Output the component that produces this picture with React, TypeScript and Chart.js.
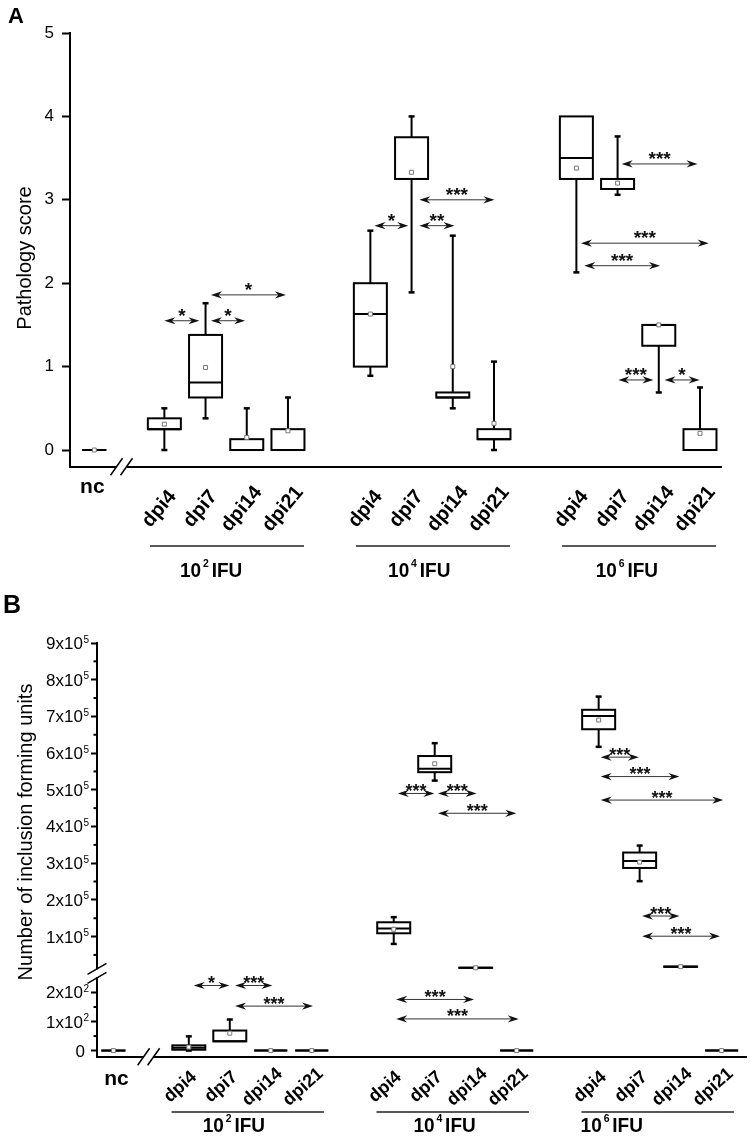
import React, { useEffect, useRef } from 'react';
import { Chart, registerables } from 'chart.js';

Chart.register(...registerables);

const FONT = "'Liberation Sans', Arial, Helvetica, sans-serif";

// ---------------- data ----------------
const controlLabel = 'nc';
const dayLabels = ['dpi4', 'dpi7', 'dpi14', 'dpi21'];
const doseBase = '10';
const doseExponents = ['2', '4', '6'];
const doseUnit = 'IFU';

// Panel A: pathology score. Order: nc, 10^2 dpi4..dpi21, 10^4 dpi4..dpi21, 10^6 dpi4..dpi21
const scoreWhiskerLow = [0, 0, 0.38, 0, 0, 0.89, 1.89, 0.5, 0, 2.13, 3.06, 0.69, 0];
const scoreQ1 = [0, 0.25, 0.63, 0, 0, 1.0, 3.25, 0.63, 0.13, 3.25, 3.13, 1.25, 0];
const scoreMedian = [0, 0.25, 0.81, 0, 0, 1.63, 3.25, 0.63, 0.13, 3.5, 3.25, 1.5, 0];
const scoreQ3 = [0, 0.38, 1.38, 0.13, 0.25, 2.0, 3.75, 0.69, 0.25, 4.0, 3.25, 1.5, 0.25];
const scoreWhiskerHigh = [0, 0.5, 1.76, 0.5, 0.63, 2.63, 4.0, 2.57, 1.06, 4.0, 3.76, 1.5, 0.75];
const scoreMean = [0, 0.31, 0.99, 0.15, 0.23, 1.63, 3.33, 1.0, 0.32, 3.38, 3.2, 1.5, 0.2];
const scoreTicks = [0, 1, 2, 3, 4, 5];

// Panel A significance comparisons (positions on the category axis, value axis)
const scoreSigFrom = [0, 1.13, 1.13, 5.1, 6.19, 6.19, 11.1, 10.11, 10.19, 11.02, 12.14];
const scoreSigTo = [0.85, 1.96, 2.95, 5.92, 7.04, 8.01, 12.94, 13.21, 12.03, 11.87, 12.99];
const scoreSigY = [1.55, 1.55, 1.86, 2.69, 2.69, 3.0, 3.43, 2.48, 2.21, 0.84, 0.84];
const scoreSigLabel = ['*', '*', '*', '*', '**', '***', '***', '***', '***', '***', '*'];

// Panel B: number of inclusion forming units
const ifuWhiskerLow = [0, 0, 32, 0, 0, 80000, 525000, 14000, 0, 617000, 251000, 17000, 0];
const ifuQ1 = [0, 3, 32, 0, 0, 109000, 548000, 14800, 0, 665000, 287000, 17500, 0];
const ifuMedian = [0, 10, 32, 0, 0, 122000, 557000, 15000, 0, 701000, 306000, 18000, 0];
const ifuQ3 = [0, 18, 69, 0, 0, 139000, 592000, 15200, 0, 718000, 329000, 18500, 0];
const ifuWhiskerHigh = [0, 49, 107, 0, 0, 153000, 627000, 16000, 0, 754000, 348000, 19000, 0];
const ifuMean = [0, 12, 60, 0, 0, 120000, 571000, 15000, 0, 690000, 303000, 18000, 0];
const ifuHighTicks = [100000, 200000, 300000, 400000, 500000, 600000, 700000, 800000, 900000];
const ifuHighMinorTicks = [50000, 150000, 250000, 350000, 450000, 550000, 650000, 750000, 850000];
const ifuLowTicks = [0, 100, 200];
const ifuLowMinorTicks = [50, 150];

const ifuSigFrom = [0.12, 1.13, 1.13, 5.06, 5.06, 5.1, 6.08, 6.08, 10.05, 10.05, 10.05, 11.06, 11.06];
const ifuSigTo = [0.99, 2.04, 3.03, 6.96, 8.05, 5.99, 7.02, 7.99, 10.98, 11.97, 13.04, 11.97, 12.96];
const ifuSigY = [224, 224, 153, 176, 109, 490000, 490000, 436000, 589000, 536000, 472000, 156000, 101000];
const ifuSigLabel = ['*', '***', '***', '***', '***', '***', '***', '***', '***', '***', '***', '***', '***'];

// ---------------- layout (not data) ----------------
const GROUP_STEP = 5;
const BREAK_VALUE = 300; // values above go on the upper segment of panel B
function categorySlots(ncSlot: number): number[] {
  const s = [ncSlot];
  for (let g = 0; g < doseExponents.length; g++) {
    for (let d = 0; d < dayLabels.length; d++) s.push(g * GROUP_STEP + d);
  }
  return s;
}
const categoryNames = [controlLabel, ...doseExponents.flatMap(() => dayLabels)];

type PanelSpec = {
  slots: number[];
  low: number[]; q1: number[]; med: number[]; q3: number[]; high: number[];
  yAxisFor: (v: number) => string;
  sigFrom: number[]; sigTo: number[]; sigY: number[]; sigLabel: string[];
  starDy: number; starSize: number;
  dayDx: number; dayY: number; daySize: number; dayAngle: number;
  ncY: number; ncDx: number;
  lineFrom: number; lineTo: number; lineY: number;
  doseLeft: number[]; doseY: number;
  letter: string; letterX: number; letterY: number; letterSize: number;
  title: string; titleX: number; titleY: number;
  xBreak: number;
};

function seg(ctx: CanvasRenderingContext2D, x1: number, y1: number, x2: number, y2: number) {
  ctx.beginPath();
  ctx.moveTo(x1, y1);
  ctx.lineTo(x2, y2);
  ctx.stroke();
}

function drawBox(ctx: CanvasRenderingContext2D, x: number, hw: number, ys: any,
  lo: number, q1: number, med: number, q3: number, hi: number) {
  const pLo = ys.getPixelForValue(lo);
  const pQ1 = ys.getPixelForValue(q1);
  const pMed = ys.getPixelForValue(med);
  const pQ3 = ys.getPixelForValue(q3);
  const pHi = ys.getPixelForValue(hi);
  ctx.save();
  ctx.strokeStyle = '#000';
  ctx.lineWidth = 2;
  if (pHi < pQ3 - 0.5) {
    seg(ctx, x, pHi, x, pQ3);
    ctx.lineWidth = 2.5;
    seg(ctx, x - 3, pHi, x + 3, pHi);
    ctx.lineWidth = 2;
  }
  if (pLo > pQ1 + 0.5) {
    seg(ctx, x, pQ1, x, pLo);
    ctx.lineWidth = 2.5;
    seg(ctx, x - 3, pLo, x + 3, pLo);
    ctx.lineWidth = 2;
  }
  ctx.fillStyle = '#fff';
  ctx.fillRect(x - hw, pQ3, 2 * hw, pQ1 - pQ3);
  ctx.strokeRect(x - hw, pQ3, 2 * hw, pQ1 - pQ3);
  seg(ctx, x - hw, pMed, x + hw, pMed);
  ctx.restore();
}

function arrowHead(ctx: CanvasRenderingContext2D, x: number, y: number, dir: number) {
  ctx.beginPath();
  ctx.moveTo(x, y);
  ctx.lineTo(x + dir * 11, y - 3.6);
  ctx.lineTo(x + dir * 7.5, y);
  ctx.lineTo(x + dir * 11, y + 3.6);
  ctx.closePath();
  ctx.fill();
}

function drawDose(ctx: CanvasRenderingContext2D, x: number, y: number, exp: string) {
  ctx.save();
  ctx.fillStyle = '#000';
  ctx.textAlign = 'left';
  ctx.textBaseline = 'alphabetic';
  ctx.translate(x, y);
  ctx.scale(0.95, 1);
  ctx.font = `bold 20px ${FONT}`;
  ctx.fillText(doseBase, 0, 0);
  let cx = ctx.measureText(doseBase).width + 2;
  ctx.font = `bold 11px ${FONT}`;
  ctx.fillText(exp, cx, -10);
  cx += ctx.measureText(exp).width + 3;
  ctx.font = `bold 20px ${FONT}`;
  ctx.fillText(doseUnit, cx, 0);
  ctx.restore();
}

function panelPlugin(spec: PanelSpec) {
  return {
    id: 'panel' + spec.letter,
    beforeDatasetsDraw(chart: any) {
      const ctx = chart.ctx as CanvasRenderingContext2D;
      const xs = chart.scales.x;
      for (let i = 0; i < spec.slots.length; i++) {
        const ys = chart.scales[spec.yAxisFor(spec.high[i])];
        const hw = i === 0 ? 12 : 16.5;
        drawBox(ctx, xs.getPixelForValue(spec.slots[i]), hw, ys,
          spec.low[i], spec.q1[i], spec.med[i], spec.q3[i], spec.high[i]);
      }
    },
    afterDraw(chart: any) {
      const ctx = chart.ctx as CanvasRenderingContext2D;
      const xs = chart.scales.x;
      const area = chart.chartArea;
      // significance arrows
      for (let k = 0; k < spec.sigFrom.length; k++) {
        const ys = chart.scales[spec.yAxisFor(spec.sigY[k])];
        const y = ys.getPixelForValue(spec.sigY[k]);
        const x1 = xs.getPixelForValue(spec.sigFrom[k]);
        const x2 = xs.getPixelForValue(spec.sigTo[k]);
        ctx.save();
        ctx.strokeStyle = '#333';
        ctx.fillStyle = '#111';
        ctx.lineWidth = 1;
        seg(ctx, x1 + 6, y, x2 - 6, y);
        arrowHead(ctx, x1, y, 1);
        arrowHead(ctx, x2, y, -1);
        ctx.font = `bold ${spec.starSize}px ${FONT}`;
        ctx.textAlign = 'center';
        ctx.textBaseline = 'alphabetic';
        ctx.fillText(spec.sigLabel[k], (x1 + x2) / 2, y + spec.starDy);
        ctx.restore();
      }
      // x-axis break
      const bx = xs.getPixelForValue(spec.xBreak);
      const by = area.bottom;
      ctx.save();
      ctx.fillStyle = '#fff';
      ctx.fillRect(bx - 5, by - 2.5, 10, 5);
      ctx.strokeStyle = '#000';
      ctx.lineWidth = 1.5;
      seg(ctx, bx - 11, by + 8.5, bx + 1, by - 8.5);
      seg(ctx, bx - 1, by + 8.5, bx + 11, by - 8.5);
      ctx.restore();
      // category labels
      ctx.save();
      ctx.fillStyle = '#000';
      ctx.font = `bold 21px ${FONT}`;
      ctx.textAlign = 'center';
      ctx.textBaseline = 'alphabetic';
      ctx.fillText(categoryNames[0], xs.getPixelForValue(spec.slots[0]) + spec.ncDx, spec.ncY);
      for (let i = 1; i < spec.slots.length; i++) {
        const px = xs.getPixelForValue(spec.slots[i]) + spec.dayDx;
        ctx.save();
        ctx.translate(px, spec.dayY);
        ctx.rotate(-spec.dayAngle * Math.PI / 180);
        ctx.font = `bold ${spec.daySize}px ${FONT}`;
        ctx.textAlign = 'center';
        ctx.textBaseline = 'middle';
        ctx.fillText(categoryNames[i], 0, 0);
        ctx.restore();
      }
      // dose group lines and labels
      ctx.strokeStyle = '#222';
      ctx.lineWidth = 1.3;
      for (let g = 0; g < doseExponents.length; g++) {
        const x1 = xs.getPixelForValue(g * GROUP_STEP + spec.lineFrom);
        const x2 = xs.getPixelForValue(g * GROUP_STEP + spec.lineTo);
        seg(ctx, x1, spec.lineY, x2, spec.lineY);
        drawDose(ctx, xs.getPixelForValue(g * GROUP_STEP + spec.doseLeft[g]), spec.doseY, doseExponents[g]);
      }
      // panel letter
      ctx.font = `bold ${spec.letterSize}px ${FONT}`;
      ctx.textAlign = 'left';
      ctx.fillText(spec.letter, spec.letterX, spec.letterY);
      // axis title
      ctx.translate(spec.titleX, spec.titleY);
      ctx.rotate(-Math.PI / 2);
      ctx.font = `20px ${FONT}`;
      ctx.textAlign = 'center';
      ctx.fillText(spec.title, 0, 0);
      ctx.restore();
    },
  };
}

const meanStyle = {
  pointStyle: 'rect',
  radius: 2.8,
  hoverRadius: 2.8,
  borderWidth: 1,
  borderColor: '#777',
  backgroundColor: '#fff',
  showLine: false,
  clip: false,
};

const HEIGHT_A = 590;
const HEIGHT_B = 551;

function buildA(): any {
  const slots = categorySlots(-1.7);
  const spec: PanelSpec = {
    slots,
    low: scoreWhiskerLow, q1: scoreQ1, med: scoreMedian, q3: scoreQ3, high: scoreWhiskerHigh,
    yAxisFor: () => 'y',
    sigFrom: scoreSigFrom, sigTo: scoreSigTo, sigY: scoreSigY, sigLabel: scoreSigLabel,
    starDy: 1, starSize: 19,
    dayDx: -5, dayY: 509, daySize: 20, dayAngle: 50,
    ncY: 493, ncDx: -2,
    lineFrom: -0.35, lineTo: 3.39, lineY: 546,
    doseLeft: [0.38, 0.43, 0.47], doseY: 577,
    letter: 'A', letterX: 8, letterY: 23, letterSize: 22,
    title: 'Pathology score', titleX: 31, titleY: 258,
    xBreak: -1.04,
  };
  return {
    type: 'scatter',
    data: {
      datasets: [{
        label: 'mean',
        data: scoreMean.map((m, i) => ({ x: slots[i], y: m })),
        xAxisID: 'x', yAxisID: 'y',
        ...meanStyle,
      }],
    },
    options: {
      responsive: false,
      animation: false,
      devicePixelRatio: 1,
      events: [],
      layout: { padding: { left: 0, top: 33, right: 29, bottom: HEIGHT_A - 466.7 } },
      plugins: { legend: { display: false }, tooltip: { enabled: false } },
      scales: {
        x: {
          type: 'linear', position: 'bottom', min: -2.29, max: 13.51,
          ticks: { display: false },
          grid: { display: true, drawOnChartArea: false, drawTicks: false, color: 'rgba(0,0,0,0)' },
          border: { display: true, color: '#000', width: 2 },
          afterFit: (s: any) => { s.height = 0; },
        },
        y: {
          type: 'linear', position: 'left', min: -0.2, max: 5,
          afterBuildTicks: (s: any) => { s.ticks = scoreTicks.map((v) => ({ value: v })); },
          ticks: { color: '#000', font: { family: FONT, size: 17 }, padding: 8 },
          grid: { drawOnChartArea: false, drawTicks: true, tickLength: 8, tickWidth: 2, tickColor: '#000', color: '#000' },
          border: { display: true, color: '#000', width: 2 },
          afterFit: (s: any) => { s.width = 70; },
        },
      },
    },
    plugins: [panelPlugin(spec)],
  };
}

function drawSci(ctx: CanvasRenderingContext2D, right: number, y: number, v: number, exp: number) {
  ctx.save();
  ctx.fillStyle = '#000';
  ctx.textBaseline = 'alphabetic';
  if (v === 0) {
    ctx.font = `17px ${FONT}`;
    ctx.textAlign = 'right';
    ctx.fillText('0', right - 4, y + 6);
    ctx.restore();
    return;
  }
  const mant = String(Math.round(v / Math.pow(10, exp)));
  const sup = String(exp);
  ctx.font = `10px ${FONT}`;
  const sw = ctx.measureText(sup).width;
  ctx.textAlign = 'left';
  ctx.fillText(sup, right - sw, y - 0.5);
  ctx.font = `17px ${FONT}`;
  ctx.textAlign = 'right';
  ctx.fillText(mant + 'x' + doseBase, right - sw - 0.5, y + 6);
  ctx.restore();
}

const ifuTickPlugin = {
  id: 'ifuTicks',
  afterDraw(chart: any) {
    const ctx = chart.ctx as CanvasRenderingContext2D;
    const hi = chart.scales.yHigh;
    const lo = chart.scales.yLow;
    const x = chart.chartArea.left;
    ctx.save();
    ctx.strokeStyle = '#000';
    ctx.lineWidth = 2;
    for (const v of ifuHighMinorTicks) { const y = hi.getPixelForValue(v); seg(ctx, x - 3.5, y, x, y); }
    for (const v of ifuLowMinorTicks) { const y = lo.getPixelForValue(v); seg(ctx, x - 3.5, y, x, y); }
    for (const v of ifuHighTicks) drawSci(ctx, x - 8, hi.getPixelForValue(v), v, 5);
    for (const v of ifuLowTicks) drawSci(ctx, x - 8, lo.getPixelForValue(v), v, 2);
    // y-axis break between the two segments
    const yb = lo.top;
    ctx.fillStyle = '#fff';
    ctx.fillRect(x - 2, yb - 4, 4, 8);
    ctx.lineWidth = 1.5;
    seg(ctx, x - 9.5, yb - 4.5 + 5.5, x + 9.5, yb - 4.5 - 5.5);
    seg(ctx, x - 9.5, yb + 4.5 + 5.5, x + 9.5, yb + 4.5 - 5.5);
    ctx.restore();
  },
};

function buildB(): any {
  const off = HEIGHT_A; // page y of the top of canvas B
  const slots = categorySlots(-1.84);
  const axisFor = (v: number) => (v > BREAK_VALUE ? 'yHigh' : 'yLow');
  const spec: PanelSpec = {
    slots,
    low: ifuWhiskerLow, q1: ifuQ1, med: ifuMedian, q3: ifuQ3, high: ifuWhiskerHigh,
    yAxisFor: axisFor,
    sigFrom: ifuSigFrom, sigTo: ifuSigTo, sigY: ifuSigY, sigLabel: ifuSigLabel,
    starDy: 3.5, starSize: 18,
    dayDx: -8.5, dayY: 1087 - off, daySize: 18, dayAngle: 42,
    ncY: 1085 - off, ncDx: 3,
    lineFrom: -0.42, lineTo: 3.3, lineY: 1112 - off,
    doseLeft: [0.34, 0.48, -0.44], doseY: 1132 - off,
    letter: 'B', letterX: 3, letterY: 613 - off, letterSize: 25,
    title: 'Number of inclusion forming units', titleX: 32, titleY: 832 - off,
    xBreak: -0.98,
  };
  const hiIdx = ifuMean.map((_, i) => i).filter((i) => ifuWhiskerHigh[i] > BREAK_VALUE);
  const loIdx = ifuMean.map((_, i) => i).filter((i) => ifuWhiskerHigh[i] <= BREAK_VALUE);
  const commonY = {
    type: 'linear', position: 'left', stack: 'ifu',
    ticks: { display: false },
    grid: { drawOnChartArea: false, drawTicks: true, tickLength: 6, tickWidth: 2, tickColor: '#000', color: '#000' },
    border: { display: true, color: '#000', width: 2 },
    afterFit: (s: any) => { s.width = 97; },
  };
  return {
    type: 'scatter',
    data: {
      datasets: [
        { label: 'mean high', data: hiIdx.map((i) => ({ x: slots[i], y: ifuMean[i] })), xAxisID: 'x', yAxisID: 'yHigh', ...meanStyle },
        { label: 'mean low', data: loIdx.map((i) => ({ x: slots[i], y: ifuMean[i] })), xAxisID: 'x', yAxisID: 'yLow', ...meanStyle },
      ],
    },
    options: {
      responsive: false,
      animation: false,
      devicePixelRatio: 1,
      events: [],
      layout: { padding: { left: 0, top: 643 - off, right: 0, bottom: HEIGHT_B - (1056.7 - off) } },
      plugins: { legend: { display: false }, tooltip: { enabled: false } },
      scales: {
        x: {
          type: 'linear', position: 'bottom', min: -2.24, max: 13.6,
          ticks: { display: false },
          grid: { display: true, drawOnChartArea: false, drawTicks: false, color: 'rgba(0,0,0,0)' },
          border: { display: true, color: '#000', width: 2 },
          afterFit: (s: any) => { s.height = 0; },
        },
        yHigh: {
          ...commonY,
          stackWeight: 329.4, weight: 1,
          min: 0, max: 900000,
          afterBuildTicks: (s: any) => { s.ticks = ifuHighTicks.map((v) => ({ value: v })); },
        },
        yLow: {
          ...commonY,
          stackWeight: 83.2, weight: 0,
          min: -21, max: 266,
          afterBuildTicks: (s: any) => { s.ticks = ifuLowTicks.map((v) => ({ value: v })); },
        },
      },
    },
    plugins: [panelPlugin(spec), ifuTickPlugin],
  };
}

export default function App() {
  const refA = useRef<HTMLCanvasElement>(null);
  const refB = useRef<HTMLCanvasElement>(null);
  useEffect(() => {
    document.body.style.margin = '0';
    const a = new Chart(refA.current as HTMLCanvasElement, buildA());
    const b = new Chart(refB.current as HTMLCanvasElement, buildB());
    return () => {
      a.destroy();
      b.destroy();
    };
  }, []);
  return (
    <div style={{ width: 750, height: HEIGHT_A + HEIGHT_B, background: '#fff' }}>
      <canvas ref={refA} width={750} height={HEIGHT_A} style={{ display: 'block', width: 750, height: HEIGHT_A }} />
      <canvas ref={refB} width={750} height={HEIGHT_B} style={{ display: 'block', width: 750, height: HEIGHT_B }} />
    </div>
  );
}
